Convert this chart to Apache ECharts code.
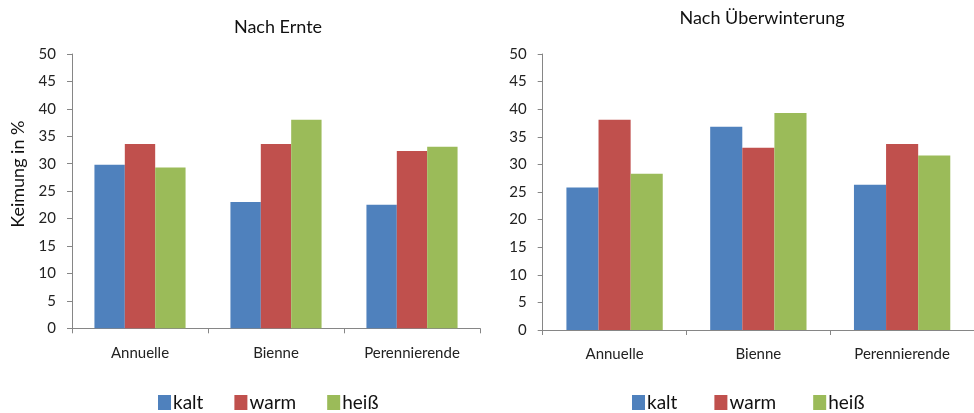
<!DOCTYPE html>
<html>
<head>
<meta charset="utf-8">
<script src="https://cdn.jsdelivr.net/npm/echarts@6/dist/echarts.min.js"></script>
<style>
  html, body { margin: 0; padding: 0; background: #fff; }
  #chart { width: 974px; height: 413px; }
</style>
</head>
<body>
<div id="chart"></div>
<script>
// Keimung (%) nach Temperaturbehandlung
const categories = ['Annuelle', 'Bienne', 'Perennierende'];
const seriesNames = ['kalt', 'warm', 'heiß'];

// Nach Ernte
const ernteKalt = [29.8, 23.0, 22.5];
const ernteWarm = [33.6, 33.6, 32.3];
const ernteHeiss = [29.3, 38.0, 33.1];

// Nach Überwinterung
const winterKalt = [25.8, 36.8, 26.3];
const winterWarm = [38.1, 33.0, 33.7];
const winterHeiss = [28.3, 39.3, 31.6];

const colors = ['#4F81BD', '#C0504D', '#9BBB59'];
const FONT = 'Lato, "Open Sans", sans-serif';
const axisGrey = '#868686';

function makeX(gridIndex) {
  return {
    type: 'category', gridIndex, data: categories,
    axisLine: { lineStyle: { color: axisGrey, width: 1 } },
    axisTick: { show: true, length: 5, lineStyle: { color: axisGrey } },
    axisLabel: { color: '#222', fontFamily: FONT, fontSize: 15, margin: 17 }
  };
}
function makeY(gridIndex, withName) {
  const y = {
    type: 'value', gridIndex, min: 0, max: 50, interval: 5,
    splitLine: { show: false },
    axisLine: { show: true, lineStyle: { color: axisGrey, width: 1 } },
    axisTick: { show: true, length: 5, lineStyle: { color: axisGrey } },
    axisLabel: { color: '#222', fontFamily: FONT, fontSize: 15, margin: 16 }
  };
  if (withName) {
    y.name = 'Keimung in %';
    y.nameLocation = 'middle';
    y.nameGap = 45;
    // shifted upward along the axis
    y.nameTextStyle = { color: '#111', fontFamily: FONT, fontSize: 18, padding: [0, 0, 0, 34] };
  }
  return y;
}
function makeBar(name, data, idx, color) {
  return {
    name, type: 'bar', data, xAxisIndex: idx, yAxisIndex: idx,
    barGap: '0%', barCategoryGap: '33%',
    itemStyle: { color },
    emphasis: { disabled: true }
  };
}
function makeLegend(left, gap) {
  return {
    left, top: 388, itemWidth: 13, itemHeight: 15, itemGap: gap,
    icon: 'rect', data: seriesNames,
    textStyle: { fontFamily: FONT, fontSize: 19, color: '#111', padding: [0, 0, 0, -3] }
  };
}

const chart = echarts.init(document.getElementById('chart'), null, { renderer: 'canvas' });
chart.setOption({
  animation: false,
  color: colors,
  title: [
    { text: 'Nach Ernte', left: 273, top: 13, textAlign: 'center',
      textStyle: { fontFamily: FONT, fontSize: 18, fontWeight: 'normal', color: '#111' } },
    { text: 'Nach Überwinterung', left: 757, top: 4, textAlign: 'center',
      textStyle: { fontFamily: FONT, fontSize: 18, fontWeight: 'normal', color: '#111' } }
  ],
  legend: [makeLegend(153, 31), makeLegend(627, 37)],
  grid: [
    { left: 72, right: 494, top: 54, bottom: 84.7 },
    { left: 542.7, right: 0, top: 54, bottom: 83 }
  ],
  xAxis: [makeX(0), makeX(1)],
  yAxis: [makeY(0, true), makeY(1, false)],
  series: [
    makeBar('kalt', ernteKalt, 0, colors[0]),
    makeBar('warm', ernteWarm, 0, colors[1]),
    makeBar('heiß', ernteHeiss, 0, colors[2]),
    makeBar('kalt', winterKalt, 1, colors[0]),
    makeBar('warm', winterWarm, 1, colors[1]),
    makeBar('heiß', winterHeiss, 1, colors[2])
  ]
});
</script>
</body>
</html>
